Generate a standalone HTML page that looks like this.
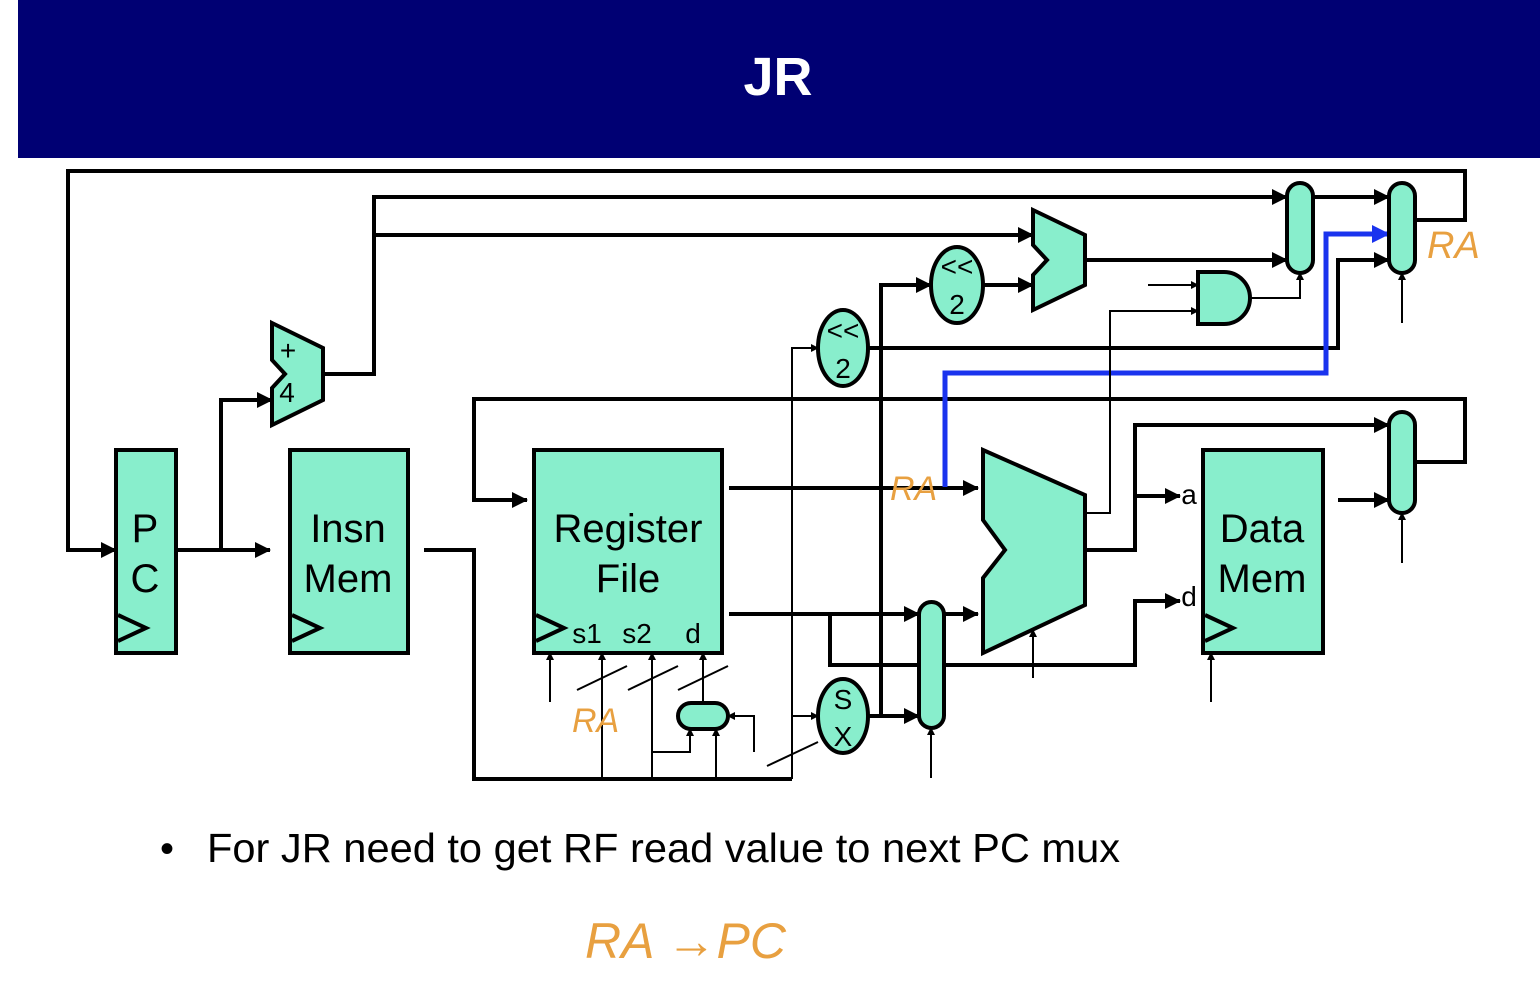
<!DOCTYPE html>
<html><head><style>body{margin:0;background:#fff}svg{display:block}</style></head><body>
<svg width="1540" height="981" viewBox="0 0 1540 981" xmlns="http://www.w3.org/2000/svg" font-family="Liberation Sans, sans-serif">
<defs>
<marker id="a" markerWidth="8" markerHeight="8" refX="7" refY="4" orient="auto" markerUnits="userSpaceOnUse"><path d="M0,0 L8,4 L0,8z" fill="#000"/></marker>
<marker id="ab" markerWidth="16" markerHeight="16" refX="15" refY="8" orient="auto" markerUnits="userSpaceOnUse"><path d="M0,0 L16,8 L0,16z" fill="#000"/></marker>
<marker id="bl" markerWidth="18" markerHeight="18" refX="17" refY="9" orient="auto" markerUnits="userSpaceOnUse"><path d="M0,0 L18,9 L0,18z" fill="#1a33ee"/></marker>
</defs>
<rect x="18" y="0" width="1522" height="158" fill="#000073"/>
<text x="778" y="95" fill="#fff" font-size="54" font-weight="bold" text-anchor="middle">JR</text>

<g fill="none" stroke="#000" stroke-width="4">
<polyline points="1415,220 1465,220 1465,171 68,171 68,550 116,550" marker-end="url(#ab)"/>
<polyline points="176,550 270,550" marker-end="url(#ab)"/>
<polyline points="221,550 221,400 272,400" marker-end="url(#ab)"/>
<polyline points="323,374 374,374 374,197 1287,197" marker-end="url(#ab)"/>
<polyline points="374,235 1033,235" marker-end="url(#ab)"/>
<polyline points="1085,260 1287,260" marker-end="url(#ab)"/>
<polyline points="983,285 1033,285" marker-end="url(#ab)"/>
<polyline points="881,716 881,285 931,285" marker-end="url(#ab)"/>
<polyline points="868,348 1338,348 1338,260 1389,260" marker-end="url(#ab)"/>
<polyline points="1313,197 1389,197" marker-end="url(#ab)"/>
<polyline points="424,550 474,550 474,779 792,779"/>
<polyline points="1415,462 1465,462 1465,399 474,399 474,500 527,500" marker-end="url(#ab)"/>
<polyline points="729,488 978,488" marker-end="url(#ab)"/>
<polyline points="729,614 919,614" marker-end="url(#ab)"/>
<polyline points="830,614 830,665 1135,665 1135,601 1180,601" marker-end="url(#ab)"/>
<polyline points="944,614 978,614" marker-end="url(#ab)"/>
<polyline points="1085,550 1135,550 1135,425 1389,425" marker-end="url(#ab)"/>
<polyline points="1135,496 1180,496" marker-end="url(#ab)"/>
<polyline points="868,716 919,716" marker-end="url(#ab)"/>
<polyline points="1338,500 1389,500" marker-end="url(#ab)"/>
</g>
<polyline points="945,487 945,373 1326,373 1326,234 1389,234" fill="none" stroke="#1a33ee" stroke-width="5" marker-end="url(#bl)"/>

<g fill="none" stroke="#000" stroke-width="2">
<polyline points="1250,298 1300,298 1300,273" marker-end="url(#a)"/>
<polyline points="1148,285 1198,285" marker-end="url(#a)"/>
<polyline points="1085,513 1110,513 1110,311 1198,311" marker-end="url(#a)"/>
<polyline points="1402,323 1402,273" marker-end="url(#a)"/>
<polyline points="1402,563 1402,513" marker-end="url(#a)"/>
<polyline points="931,778 931,728" marker-end="url(#a)"/>
<polyline points="1033,678 1033,630" marker-end="url(#a)"/>
<polyline points="1211,702 1211,653" marker-end="url(#a)"/>
<polyline points="792,779 792,348 818,348" marker-end="url(#a)"/>
<polyline points="792,716 818,716" marker-end="url(#a)"/>
<polyline points="550,702 550,653" marker-end="url(#a)"/>
<polyline points="602,779 602,653" marker-end="url(#a)"/>
<polyline points="652,779 652,653" marker-end="url(#a)"/>
<polyline points="703,703 703,653" marker-end="url(#a)"/>
<polyline points="652,752 690,752 690,729" marker-end="url(#a)"/>
<polyline points="716,779 716,729" marker-end="url(#a)"/>
<polyline points="754,752 754,716 728,716" marker-end="url(#a)"/>
<line x1="577" y1="690" x2="627" y2="666"/><line x1="628" y1="690" x2="678" y2="666"/>
<line x1="678" y1="690" x2="728" y2="666"/><line x1="767" y1="766" x2="818" y2="742"/>
</g>

<g fill="#88eecc" stroke="#000" stroke-width="4">
<rect x="116" y="450" width="60" height="203"/>
<rect x="290" y="450" width="118" height="203"/>
<rect x="534" y="450" width="188" height="203"/>
<rect x="1203" y="450" width="120" height="203"/>
<polygon points="983,450 1085,495 1085,605 983,653 983,578 1005,550 983,520"/>
<polygon points="272,323 323,348 323,400 272,425 272,388 285,374 272,360"/>
<polygon points="1033,210 1085,235 1085,285 1033,310 1033,275 1047,260 1033,245"/>
<ellipse cx="957" cy="285" rx="26" ry="38"/>
<ellipse cx="843" cy="348" rx="25" ry="38"/>
<ellipse cx="843" cy="716" rx="25" ry="37"/>
<rect x="1287" y="183" width="26" height="90" rx="13"/>
<rect x="1389" y="183" width="26" height="90" rx="13"/>
<rect x="1389" y="412" width="26" height="101" rx="13"/>
<rect x="919" y="602" width="25" height="126" rx="12.5"/>
<rect x="678" y="703" width="50" height="26" rx="13"/>
<path d="M1198,272 L1224,272 A26,26 0 0 1 1224,324 L1198,324 Z"/>
</g>
<g fill="none" stroke="#000" stroke-width="4">
<polyline points="118,615 146,628 118,641"/><polyline points="292,615 320,628 292,641"/>
<polyline points="536,615 564,628 536,641"/><polyline points="1205,615 1233,628 1205,641"/>
</g>

<g font-size="40" text-anchor="middle" fill="#000">
<text x="145" y="542">P</text><text x="145" y="592">C</text>
<text x="348" y="542">Insn</text><text x="348" y="592">Mem</text>
<text x="628" y="542">Register</text><text x="628" y="592">File</text>
<text x="1262" y="542">Data</text><text x="1262" y="592">Mem</text>
</g>
<g font-size="28" text-anchor="middle" fill="#000">
<text x="587" y="643">s1</text><text x="637" y="643">s2</text><text x="693" y="643">d</text>
<text x="288" y="360">+</text><text x="287" y="402">4</text>
<text x="957" y="276">&lt;&lt;</text><text x="957" y="314">2</text>
<text x="843" y="340">&lt;&lt;</text><text x="843" y="378">2</text>
<text x="843" y="709">S</text><text x="843" y="746">X</text>
<text x="1189" y="504">a</text><text x="1189" y="606">d</text>
</g>

<g fill="#e8a040" font-style="italic" font-family="Liberation Sans, sans-serif">
<text x="1427" y="258" font-size="38">RA</text>
<text x="890" y="500" font-size="34">RA</text>
<text x="572" y="732" font-size="34">RA</text>
<text x="585" y="958" font-size="50">RA →PC</text>
</g>

<text x="160" y="862" font-size="40" fill="#000">•</text>
<text x="207" y="862" font-size="41" fill="#000" textLength="913" lengthAdjust="spacingAndGlyphs">For JR need to get RF read value to next PC mux</text>
</svg>
</body></html>
